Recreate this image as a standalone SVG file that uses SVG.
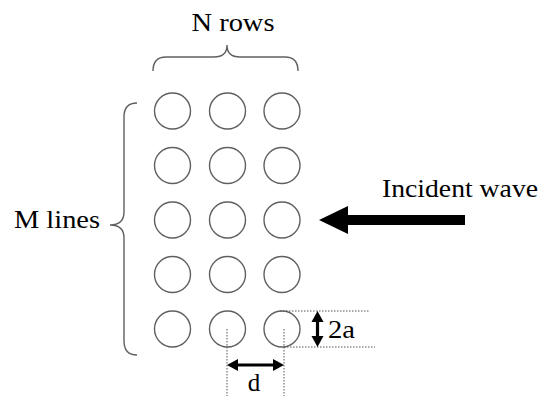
<svg xmlns="http://www.w3.org/2000/svg" width="546" height="396" viewBox="0 0 546 396">
<style>
.c{fill:none;stroke:#606060;stroke-width:1.4}
.br{fill:none;stroke:#606060;stroke-width:1.4}
.dot{fill:none;stroke:#555;stroke-width:1;stroke-dasharray:1.5 1.5}
.t{font-family:'Liberation Serif','DejaVu Serif',serif;font-size:25px;fill:#000}
.ar{fill:#000;stroke:none}
.sh{stroke:#000;stroke-width:3.2;fill:none}
</style>
<rect width="546" height="396" fill="#fff"/>
<g id="cylinders">
<circle class="c" cx="172.5" cy="111" r="18"/><circle class="c" cx="227.5" cy="111" r="18"/><circle class="c" cx="282" cy="111" r="18"/>
<circle class="c" cx="172.5" cy="165.5" r="18"/><circle class="c" cx="227.5" cy="165.5" r="18"/><circle class="c" cx="282" cy="165.5" r="18"/>
<circle class="c" cx="172.5" cy="220" r="18"/><circle class="c" cx="227.5" cy="220" r="18"/><circle class="c" cx="282" cy="220" r="18"/>
<circle class="c" cx="172.5" cy="274.5" r="18"/><circle class="c" cx="227.5" cy="274.5" r="18"/><circle class="c" cx="282" cy="274.5" r="18"/>
<circle class="c" cx="172.5" cy="329" r="18"/><circle class="c" cx="227.5" cy="329" r="18"/><circle class="c" cx="282" cy="329" r="18"/>
</g>
<g id="n-rows">
<path class="br" d="M153,71 Q153,57 166,57 L214,57 Q227,57 227,45 Q227,57 240,57 L285,57 Q298,57 298,71"/>
<text class="t" x="233" y="31" text-anchor="middle" textLength="83" lengthAdjust="spacingAndGlyphs">N rows</text>
</g>
<g id="m-lines">
<path class="br" d="M137,103 Q124,103 124,117 L124,212 Q124,225 110,225 Q124,225 124,238 L124,341 Q124,355 137,355"/>
<text class="t" x="57" y="228" text-anchor="middle" textLength="86" lengthAdjust="spacingAndGlyphs">M lines</text>
</g>
<g id="incident-wave">
<text class="t" x="460" y="197" text-anchor="middle" textLength="156" lengthAdjust="spacingAndGlyphs">Incident wave</text>
<polygon class="ar" points="319,220 348,206 348,215 465,215 465,225 348,225 348,234"/>
</g>
<g id="dimensions">
<line class="dot" x1="227" y1="329" x2="227" y2="396"/>
<line class="dot" x1="284" y1="329" x2="284" y2="396"/>
<line class="dot" x1="280" y1="311" x2="370" y2="311"/>
<line class="dot" x1="284" y1="347" x2="375" y2="347"/>
<line class="sh" x1="236" y1="365" x2="275" y2="365"/>
<polygon class="ar" points="227,365 238,359 238,371"/>
<polygon class="ar" points="284,365 273,359 273,371"/>
<line class="sh" x1="317.5" y1="320" x2="317.5" y2="338"/>
<polygon class="ar" points="317.5,311 311.5,322 323.5,322"/>
<polygon class="ar" points="317.5,347 311.5,336 323.5,336"/>
<text class="t" x="341.5" y="338" text-anchor="middle" textLength="27" lengthAdjust="spacingAndGlyphs">2a</text>
<text class="t" x="254" y="391" text-anchor="middle">d</text>
</g>
</svg>
